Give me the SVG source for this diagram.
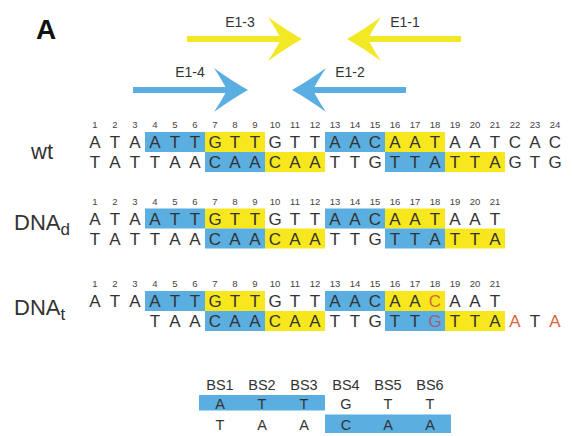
<svg xmlns="http://www.w3.org/2000/svg" width="573" height="436" viewBox="0 0 573 436">
<style>
.seq{font-family:"Liberation Sans",Arial,sans-serif;font-size:17px;fill:#333;text-anchor:middle}
.num{font-family:"Liberation Sans",Arial,sans-serif;font-size:9.5px;fill:#444;text-anchor:middle}
.lbl{font-family:"Liberation Sans",Arial,sans-serif;font-size:22px;fill:#333}
.alab{font-family:"Liberation Sans",Arial,sans-serif;font-size:14px;fill:#333;text-anchor:middle}
.bs{font-family:"Liberation Sans",Arial,sans-serif;font-size:14.5px;fill:#333;text-anchor:middle}
.b{fill:#5aaee0}
.y{fill:#f7e71c}
.red{fill:#d9653a}
.mut{fill:#a0607a}
.ya{fill:#f2e824}
.ba{fill:#5aaee2}
</style>
<defs>
<path id="headR" d="M0,0 Q-16,-9 -34,-22 Q-26,-10 -21,0 Q-26,10 -34,22 Q-16,9 0,0 Z"/>
</defs>
<rect width="573" height="436" fill="#fff"/>
<text x="36" y="39" font-family="Liberation Sans,Arial,sans-serif" font-size="28" font-weight="bold" fill="#111">A</text>

<g id="primers">
  <g id="E1-3">
    <rect class="ya" x="187" y="36" width="97" height="6"/>
    <use href="#headR" class="ya" transform="translate(302,39)"/>
    <text class="alab" x="240" y="27">E1-3</text>
  </g>
  <g id="E1-1">
    <rect class="ya" x="365" y="36" width="96" height="6"/>
    <use href="#headR" class="ya" transform="translate(347,39) scale(-1,1)"/>
    <text class="alab" x="405" y="27">E1-1</text>
  </g>
  <g id="E1-4">
    <rect class="ba" x="133" y="87" width="97" height="6"/>
    <use href="#headR" class="ba" transform="translate(248,90)"/>
    <text class="alab" x="190" y="77">E1-4</text>
  </g>
  <g id="E1-2">
    <rect class="ba" x="310" y="87" width="96" height="6"/>
    <use href="#headR" class="ba" transform="translate(292,90) scale(-1,1)"/>
    <text class="alab" x="350" y="77">E1-2</text>
  </g>
</g>

<g id="wt">
  <text class="lbl" x="31" y="159">wt</text>
  <rect class="b" x="145" y="132" width="60" height="20"/>
  <rect class="y" x="205" y="132" width="60" height="20"/>
  <rect class="b" x="325" y="132" width="60" height="20"/>
  <rect class="y" x="385" y="132" width="60" height="20"/>
  <rect class="b" x="205" y="152" width="60" height="20"/>
  <rect class="y" x="265" y="152" width="60" height="20"/>
  <rect class="b" x="385" y="152" width="60" height="20"/>
  <rect class="y" x="445" y="152" width="60" height="20"/>
  <text class="num" y="128"><tspan x="95">1</tspan><tspan x="115">2</tspan><tspan x="135">3</tspan><tspan x="155">4</tspan><tspan x="175">5</tspan><tspan x="195">6</tspan><tspan x="215">7</tspan><tspan x="235">8</tspan><tspan x="255">9</tspan><tspan x="275">10</tspan><tspan x="295">11</tspan><tspan x="315">12</tspan><tspan x="335">13</tspan><tspan x="355">14</tspan><tspan x="375">15</tspan><tspan x="395">16</tspan><tspan x="415">17</tspan><tspan x="435">18</tspan><tspan x="455">19</tspan><tspan x="475">20</tspan><tspan x="495">21</tspan><tspan x="515">22</tspan><tspan x="535">23</tspan><tspan x="555">24</tspan></text>
  <text class="seq" y="148" x="95 115 135 155 175 195 215 235 255 275 295 315 335 355 375 395 415 435 455 475 495 515 535 555">ATAATTGTTGTTAACAATAATCAC</text>
  <text class="seq" y="168" x="95 115 135 155 175 195 215 235 255 275 295 315 335 355 375 395 415 435 455 475 495 515 535 555">TATTAACAACAATTGTTATTAGTG</text>
</g>

<g id="DNAd" transform="translate(0,76.5)">
  <text class="lbl" x="14" y="153.5">DNA<tspan font-size="17" dy="5">d</tspan></text>
  <rect class="b" x="145" y="132" width="60" height="20"/>
  <rect class="y" x="205" y="132" width="60" height="20"/>
  <rect class="b" x="325" y="132" width="60" height="20"/>
  <rect class="y" x="385" y="132" width="60" height="20"/>
  <rect class="b" x="205" y="152" width="60" height="20"/>
  <rect class="y" x="265" y="152" width="60" height="20"/>
  <rect class="b" x="385" y="152" width="60" height="20"/>
  <rect class="y" x="445" y="152" width="60" height="20"/>
  <text class="num" y="128"><tspan x="95">1</tspan><tspan x="115">2</tspan><tspan x="135">3</tspan><tspan x="155">4</tspan><tspan x="175">5</tspan><tspan x="195">6</tspan><tspan x="215">7</tspan><tspan x="235">8</tspan><tspan x="255">9</tspan><tspan x="275">10</tspan><tspan x="295">11</tspan><tspan x="315">12</tspan><tspan x="335">13</tspan><tspan x="355">14</tspan><tspan x="375">15</tspan><tspan x="395">16</tspan><tspan x="415">17</tspan><tspan x="435">18</tspan><tspan x="455">19</tspan><tspan x="475">20</tspan><tspan x="495">21</tspan></text>
  <text class="seq" y="148" x="95 115 135 155 175 195 215 235 255 275 295 315 335 355 375 395 415 435 455 475 495">ATAATTGTTGTTAACAATAAT</text>
  <text class="seq" y="168" x="95 115 135 155 175 195 215 235 255 275 295 315 335 355 375 395 415 435 455 475 495">TATTAACAACAATTGTTATTA</text>
</g>

<g id="DNAt" transform="translate(0,159)">
  <text class="lbl" x="14" y="156">DNA<tspan font-size="17" dy="5">t</tspan></text>
  <rect class="b" x="145" y="132" width="60" height="20"/>
  <rect class="y" x="205" y="132" width="60" height="20"/>
  <rect class="b" x="325" y="132" width="60" height="20"/>
  <rect class="y" x="385" y="132" width="60" height="20"/>
  <rect class="b" x="205" y="152" width="60" height="20"/>
  <rect class="y" x="265" y="152" width="60" height="20"/>
  <rect class="b" x="385" y="152" width="60" height="20"/>
  <rect class="y" x="445" y="152" width="60" height="20"/>
  <text class="num" y="128"><tspan x="95">1</tspan><tspan x="115">2</tspan><tspan x="135">3</tspan><tspan x="155">4</tspan><tspan x="175">5</tspan><tspan x="195">6</tspan><tspan x="215">7</tspan><tspan x="235">8</tspan><tspan x="255">9</tspan><tspan x="275">10</tspan><tspan x="295">11</tspan><tspan x="315">12</tspan><tspan x="335">13</tspan><tspan x="355">14</tspan><tspan x="375">15</tspan><tspan x="395">16</tspan><tspan x="415">17</tspan><tspan x="435">18</tspan><tspan x="455">19</tspan><tspan x="475">20</tspan><tspan x="495">21</tspan></text>
  <text class="seq" y="148" x="95 115 135 155 175 195 215 235 255 275 295 315 335 355 375 395 415 435 455 475 495">ATAATTGTTGTTAACAA<tspan class="red">C</tspan>AAT</text>
  <text class="seq" y="168" x="155 175 195 215 235 255 275 295 315 335 355 375 395 415 435 455 475 495 515 535 555">TAACAACAATTGTT<tspan class="mut">G</tspan>TTA<tspan class="red">A</tspan>T<tspan class="red">A</tspan></text>
</g>

<g id="bs-table">
  <rect class="b" x="199" y="395" width="126" height="15.5"/>
  <rect class="b" x="325" y="414.5" width="126" height="18.5"/>
  <text class="bs" y="390"><tspan x="220">BS1</tspan><tspan x="262">BS2</tspan><tspan x="304">BS3</tspan><tspan x="346">BS4</tspan><tspan x="388">BS5</tspan><tspan x="430">BS6</tspan></text>
  <text class="bs" y="408.5" x="220 262 304 346 388 430">ATTGTT</text>
  <text class="bs" y="429.5" x="220 262 304 346 388 430">TAACAA</text>
</g>
</svg>
